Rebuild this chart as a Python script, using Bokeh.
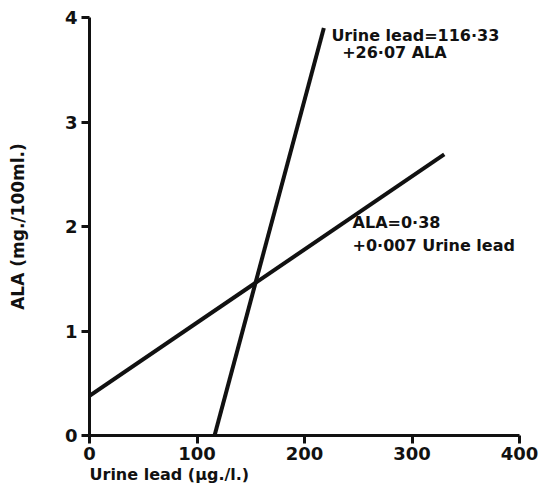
from bokeh.plotting import figure
from bokeh.models import Range1d, FixedTicker, Label, Title
from bokeh.embed import file_html
from bokeh.resources import INLINE

# Regression line endpoints
ala_line_lead = [0, 330]
ala_line_ala = [0.38, 2.69]
lead_line_lead = [116.33, 218]
lead_line_ala = [0, 3.9]

x_ticks = [0, 100, 200, 300, 400]
y_ticks = [0, 1, 2, 3, 4]

FONT = "DejaVu Sans"
INK = "#111111"

# frame spans 89..543 px horizontally; data 0..400 occupies 89..519 px
x_end = 400 + 24 / 1.075

p = figure(width=543, height=490, output_backend="svg", toolbar_location=None,
           x_range=Range1d(0, x_end), y_range=Range1d(0, 4),
           min_border_left=89, min_border_right=0, min_border_top=17, min_border_bottom=55)
p.outline_line_color = None
p.grid.visible = False
p.background_fill_color = "white"
p.border_fill_color = "white"

for ax in (p.xaxis[0], p.yaxis[0]):
    ax.axis_line_width = 3
    ax.axis_line_color = INK
    ax.major_tick_line_width = 3
    ax.major_tick_line_color = INK
    ax.major_tick_in = 0
    ax.major_tick_out = 8
    ax.minor_tick_line_color = None
    ax.major_label_text_font = FONT
    ax.major_label_text_font_style = "bold"
    ax.major_label_text_font_size = "18px"
    ax.major_label_text_color = INK
    ax.axis_label_text_font = FONT
    ax.axis_label_text_font_style = "bold"
    ax.axis_label_text_color = INK

p.xaxis.bounds = (0, 400)
p.xaxis.ticker = FixedTicker(ticks=x_ticks)
p.yaxis.ticker = FixedTicker(ticks=y_ticks)
p.xaxis.major_label_standoff = 3
p.yaxis.major_label_standoff = 4

p.yaxis.axis_label = "ALA (mg./100ml.)"
p.yaxis.axis_label_text_font_size = "17px"
p.yaxis.axis_label_standoff = 34

p.add_layout(Title(text="Urine lead (µg./l.)", align="left", offset=0, standoff=0,
                   text_font=FONT, text_font_style="bold", text_font_size="16px",
                   text_color=INK), "below")

p.line(ala_line_lead, ala_line_ala, line_width=4, line_color=INK)
p.line(lead_line_lead, lead_line_ala, line_width=4, line_color=INK)

def lab(x, y, t, size="16px"):
    p.add_layout(Label(x=x, y=y, text=t, text_font=FONT, text_font_style="bold",
                       text_font_size=size, text_color=INK, text_baseline="top",
                       text_align="left"))

lab(225, 3.92, "Urine lead=116·33")
lab(235, 3.76, "+26·07 ALA")
lab(244.7, 2.13, "ALA=0·38")
lab(244.7, 1.91, "+0·007 Urine lead")

open("out.html", "w").write(file_html(p, INLINE))
